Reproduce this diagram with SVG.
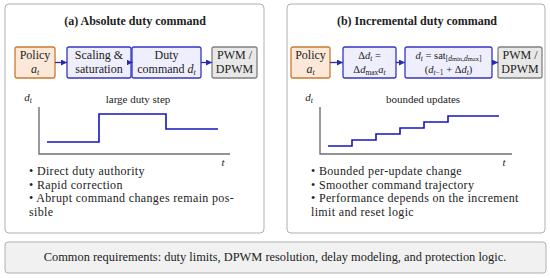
<svg xmlns="http://www.w3.org/2000/svg" width="550" height="278" viewBox="0 0 550 278">
<defs>
<style>
text{font-family:"Liberation Serif","DejaVu Serif",serif;fill:#222}
.title{font-size:12px;font-weight:bold;text-anchor:middle}
.bt{font-size:12px;text-anchor:middle}
.sm{font-size:10.5px;text-anchor:middle}
.lab{font-size:11px;text-anchor:middle}
.bul{font-size:12px;letter-spacing:0.35px}
.it{font-style:italic}
.panel{fill:#fff;stroke:#b0b0b0;stroke-width:1}
.pol{fill:#fce8d8;stroke:#c97a30;stroke-width:1.3}
.blu{fill:#eeeefc;stroke:#3636c0;stroke-width:1.3}
.gry{fill:#e8e8e8;stroke:#808080;stroke-width:1.3}
.con{stroke:#2a2ab0;stroke-width:1.3;fill:none;marker-end:url(#ah)}
.axis{stroke:#707070;stroke-width:1.4;fill:none}
.sig{stroke:#1414c0;stroke-width:1.6;fill:none}
</style>
<marker id="ah" markerUnits="userSpaceOnUse" markerWidth="6" markerHeight="6" refX="6" refY="3" orient="auto">
<path d="M0,0 L6,3 L0,6 z" fill="#2a2ab0"/>
</marker>
</defs>
<rect width="550" height="278" fill="#fff"/>

<g id="panel-a">
<rect class="panel" x="5" y="4" width="259" height="229" rx="4"/>
<text class="title" x="135" y="25">(a) Absolute duty command</text>
</g>
<g id="panel-b">
<rect class="panel" x="287" y="4" width="258" height="229" rx="4"/>
<text class="title" x="417" y="25">(b) Incremental duty command</text>
</g>

<g id="a-policy">
<rect class="pol" x="15" y="47" width="40" height="31" rx="2"/>
<text class="bt" x="35" y="59">Policy</text>
<text class="bt it" x="35" y="73">a<tspan font-size="8" dy="2">t</tspan></text>
</g>
<g id="a-scaling">
<rect class="blu" x="67" y="47" width="64" height="31" rx="2"/>
<text class="bt" x="99" y="59">Scaling &amp;</text>
<text class="bt" x="99" y="73">saturation</text>
</g>
<g id="a-duty">
<rect class="blu" x="132" y="47" width="69" height="31" rx="2"/>
<text class="bt" x="166.5" y="59">Duty</text>
<text class="bt" x="166.5" y="73">command <tspan class="it">d</tspan><tspan class="it" font-size="8" dy="2">t</tspan></text>
</g>
<g id="a-pwm">
<rect class="gry" x="212" y="47" width="45" height="31" rx="2"/>
<text class="bt" x="234.5" y="59">PWM /</text>
<text class="bt" x="234.5" y="73">DPWM</text>
</g>

<g id="b-policy">
<rect class="pol" x="291" y="47" width="39" height="31" rx="2"/>
<text class="bt" x="310.5" y="59">Policy</text>
<text class="bt it" x="310.5" y="73">a<tspan font-size="8" dy="2">t</tspan></text>
</g>
<g id="b-delta">
<rect class="blu" x="343" y="47" width="53" height="31" rx="2"/>
<text class="sm" x="369.5" y="59">Δ<tspan class="it">d</tspan><tspan class="it" font-size="7.5" dy="2">t</tspan><tspan dy="-2"> =</tspan></text>
<text class="sm" x="369.5" y="73">Δ<tspan class="it">d</tspan><tspan font-size="7.5" dy="2">max</tspan><tspan class="it" dy="-2">a</tspan><tspan class="it" font-size="7.5" dy="2">t</tspan></text>
</g>
<g id="b-sat">
<rect class="blu" x="405" y="47" width="87" height="31" rx="2"/>
<text class="sm" x="448.5" y="59"><tspan class="it">d</tspan><tspan class="it" font-size="7.5" dy="2">t</tspan><tspan dy="-2"> = sat</tspan><tspan font-size="7.5" dy="2">[<tspan class="it">d</tspan><tspan font-size="6.5">min</tspan>,<tspan class="it">d</tspan><tspan font-size="6.5">max</tspan>]</tspan></text>
<text class="sm" x="448.5" y="73">(<tspan class="it">d</tspan><tspan class="it" font-size="7.5" dy="2">t</tspan><tspan font-size="7.5">−1</tspan><tspan dy="-2"> + Δ</tspan><tspan class="it">d</tspan><tspan class="it" font-size="7.5" dy="2">t</tspan><tspan dy="-2">)</tspan></text>
</g>
<g id="b-pwm">
<rect class="gry" x="498" y="47" width="44" height="31" rx="2"/>
<text class="bt" x="520" y="59">PWM /</text>
<text class="bt" x="520" y="73">DPWM</text>
</g>

<g id="connectors">
<line class="con" x1="55" y1="62.5" x2="67" y2="62.5"/>
<line class="con" x1="128" y1="62.5" x2="132.5" y2="62.5"/>
<line class="con" x1="201" y1="62.5" x2="212" y2="62.5"/>
<line class="con" x1="330" y1="62.5" x2="343" y2="62.5"/>
<line class="con" x1="396" y1="62.5" x2="405" y2="62.5"/>
<line class="con" x1="492" y1="62.5" x2="498" y2="62.5"/>
</g>

<g id="chart-a">
<path class="axis" d="M39,107 V154 H230"/>
<text class="lab it" x="28" y="101">d<tspan font-size="8" dy="2">t</tspan></text>
<text class="lab" x="138" y="103">large duty step</text>
<text class="lab it" x="223" y="166">t</text>
<path class="sig" d="M47,142 H99 V114 H166 V129 H218"/>
</g>

<g id="chart-b">
<path class="axis" d="M320,107 V154 H512"/>
<text class="lab it" x="309" y="101">d<tspan font-size="8" dy="2">t</tspan></text>
<text class="lab" x="423" y="103">bounded updates</text>
<text class="lab it" x="504" y="166">t</text>
<path class="sig" d="M328,146 H352 V140 H376 V134 H400 V128 H424 V122 H448 V116 H499"/>
</g>

<g id="bullets-a">
<text class="bul" x="29" y="175">• Direct duty authority</text>
<text class="bul" x="29" y="188.5">• Rapid correction</text>
<text class="bul" x="29" y="202">• Abrupt command changes remain pos-</text>
<text class="bul" x="29" y="215.5">sible</text>
</g>
<g id="bullets-b">
<text class="bul" x="311" y="175">• Bounded per-update change</text>
<text class="bul" x="311" y="188.5">• Smoother command trajectory</text>
<text class="bul" x="311" y="202">• Performance depends on the increment</text>
<text class="bul" x="311" y="215.5">limit and reset logic</text>
</g>

<g id="common">
<rect x="5" y="242" width="541" height="31" rx="3" fill="#f1f1f1" stroke="#b0b0b0" stroke-width="1"/>
<text x="275" y="261" font-size="12.4" text-anchor="middle">Common requirements: duty limits, DPWM resolution, delay modeling, and protection logic.</text>
</g>
</svg>
